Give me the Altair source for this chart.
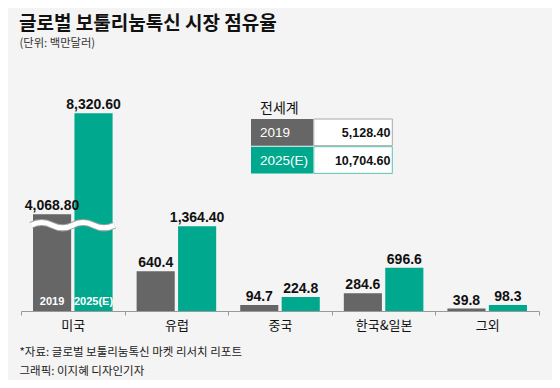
import altair as alt
import pandas as pd

# ---- data ----
regions = ["미국", "유럽", "중국", "한국&일본", "그외"]
years = ["2019", "2025(E)"]
values_2019 = [4068.8, 640.4, 94.7, 284.6, 39.8]
values_2025 = [8320.6, 1364.4, 224.8, 696.6, 98.3]
world_values = [5128.4, 10704.6]

title_text = "글로벌 보툴리눔톡신 시장 점유율"
subtitle_text = "(단위: 백만달러)"
source_text = "*자료: 글로벌 보툴리눔톡신 마켓 리서치 리포트"
credit_text = "그래픽: 이지혜 디자인기자"
table_title = "전세계"

# ---- style ----
GRAY = "#666666"
TEAL = "#00a88e"
BG = "#f4f4f4"
KR = "Noto Sans CJK KR"
NUM = "Liberation Sans"
BREAK_ABOVE = 3000      # bars above this are drawn on a compressed (broken) scale
COMPRESS = 0.382
BREAK_AT = 1380         # where the break wave is drawn
# one wave cycle across a bar (unit coordinates)
WAVE = "M-1,0C-0.667,-0.17,-0.333,-0.17,0,0C0.333,0.17,0.667,0.17,1,0"


def fmt(v):
    return f"{v:,.2f}" if v >= 1000 else f"{v:,.1f}"


rows = []
for i, r in enumerate(regions):
    for yr, vals in zip(years, [values_2019, values_2025]):
        rows.append({"region": r, "year": yr, "value": vals[i], "label": fmt(vals[i])})
df = pd.DataFrame(rows)

base = alt.Chart(df).transform_calculate(
    shown=f"datum.value > {BREAK_ABOVE} ? datum.value * {COMPRESS} : datum.value"
)

x_enc = alt.X(
    "region:N", sort=regions,
    scale=alt.Scale(paddingInner=0, paddingOuter=0),
    axis=alt.Axis(title=None, labelAngle=0, tickBand="extent", tickSize=4,
                  labelPadding=4, labelFont=KR, labelFontSize=13, labelColor="#111111",
                  domainColor="#999999", tickColor="#999999", grid=False),
)
xo_enc = alt.XOffset("year:N", sort=years,
                     scale=alt.Scale(paddingInner=0.08, paddingOuter=0.29))
y_enc = alt.Y("shown:Q", scale=alt.Scale(domain=[0, 3875]), axis=None)
color_enc = alt.Color("year:N", sort=years,
                      scale=alt.Scale(domain=years, range=[GRAY, TEAL]), legend=None)

bars = base.mark_bar().encode(x=x_enc, xOffset=xo_enc, y=y_enc, color=color_enc)

labels = base.mark_text(baseline="alphabetic", dy=-4, font=NUM, fontSize=14,
                        fontWeight="bold", color="#111111").encode(
    x=x_enc, xOffset=xo_enc, y=y_enc, text="label:N")

inbar = base.transform_filter(alt.datum.region == regions[0]).mark_text(
    baseline="middle", dy=-9, font=NUM, fontSize=11, fontWeight="bold", color="white"
).encode(x=x_enc, xOffset=xo_enc, y=alt.value(241), text="year:N")

# break marks across the broken (compressed) bars
wave_base = base.transform_filter(f"datum.value > {BREAK_ABOVE}").transform_calculate(
    shown=str(BREAK_AT))
wave_outer = wave_base.mark_point(
    shape=WAVE, size=1764, filled=False, opacity=1, stroke="#a0a0a0", strokeWidth=7
).encode(x=x_enc, xOffset=xo_enc, y=y_enc)
wave_inner = wave_base.mark_point(
    shape=WAVE, size=1764, filled=False, opacity=1, stroke="white", strokeWidth=5
).encode(x=x_enc, xOffset=xo_enc, y=y_enc)

# ---- inset table (world total) ----
ROW_Y = [49, 76.7]
ROW_H = 26.7
table_parts = []
for i, (yr, val) in enumerate(zip(years, world_values)):
    row = pd.DataFrame({"year": [yr], "label": [fmt(val)]})
    y1 = ROW_Y[i]
    fill1 = GRAY if i == 0 else TEAL
    edge = "#a8a8a8" if i == 0 else "#5cc4b2"
    rc = alt.Chart(row)
    table_parts += [
        rc.mark_rect(fill=fill1).encode(
            x=alt.value(230), x2=alt.value(292.3), y=alt.value(y1), y2=alt.value(y1 + ROW_H)),
        rc.mark_rect(fill="white", stroke=edge, strokeWidth=1).encode(
            x=alt.value(292.8), x2=alt.value(371.3), y=alt.value(y1), y2=alt.value(y1 + ROW_H)),
        rc.mark_text(align="left", baseline="middle", font=NUM, fontSize=13.5,
                     color="white").encode(
            x=alt.value(239), y=alt.value(y1 + 14.3), text="year:N"),
        rc.mark_text(align="right", baseline="middle", font=NUM, fontSize=12.5,
                     fontWeight="bold", color="#111111").encode(
            x=alt.value(369.5), y=alt.value(y1 + 14.3), text="label:N"),
    ]

one = pd.DataFrame({"k": [0]})


def txt(t, xv, yv, size, weight="normal", color="#111111"):
    return alt.Chart(one).mark_text(
        text=t, align="left", baseline="middle", font=KR, fontSize=size,
        fontWeight=weight, color=color).encode(x=alt.value(xv), y=alt.value(yv))


texts = [
    txt(table_title, 239, 39.3, 14),
    txt(title_text, -2, -46.2, 19, "bold"),
    txt(subtitle_text, -1.5, -26.2, 11.3, color="#333333"),
    txt(source_text, -1.5, 283.3, 11.5, color="#222222"),
    txt(credit_text, -1.5, 302.1, 11.5, color="#222222"),
]

chart = alt.layer(
    bars, wave_outer, wave_inner, labels, inbar, *table_parts, *texts
).properties(
    width=518, height=241,
    padding={"left": 13, "top": 62, "right": 13, "bottom": 69},
    autosize=alt.AutoSizeParams(type="none"),
    background=BG,
).configure_view(stroke=None)

chart.save("out.html", embed_options={"renderer": "svg", "actions": False})
